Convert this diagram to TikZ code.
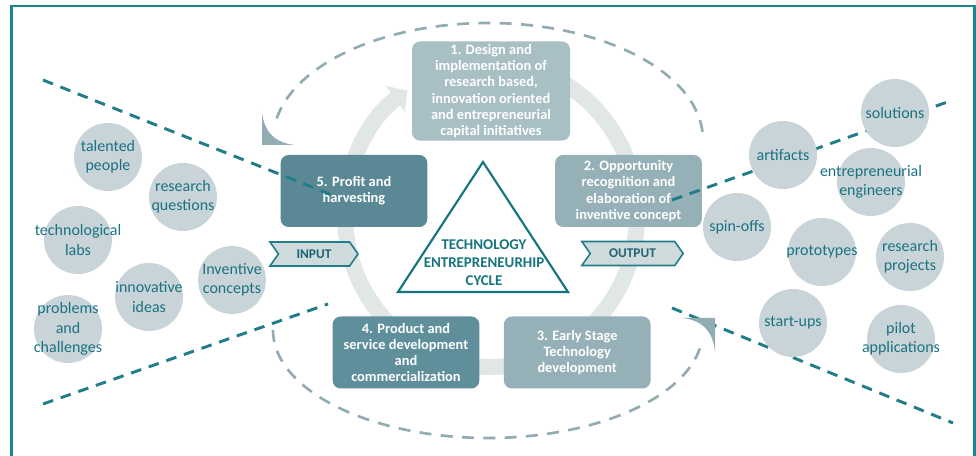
\documentclass[tikz,border=0pt]{standalone}
\usepackage{fontspec}
\setmainfont{Carlito}
\usepackage{tikz}
\usetikzlibrary{arrows.meta,positioning,shapes.symbols}
\usepackage{xcolor}
\definecolor{frameteal}{HTML}{17868F}
\definecolor{funnelteal}{HTML}{217D88}
\definecolor{ringgrey}{HTML}{E1E6E7}
\definecolor{arcgrey}{HTML}{91ACB2}
\definecolor{stageone}{HTML}{A8BFC4}
\definecolor{stagetwo}{HTML}{95B0B6}
\definecolor{stagefour}{HTML}{5E8F9A}
\definecolor{stagefive}{HTML}{5A8995}
\definecolor{bubblegrey}{HTML}{C8D4D8}
\definecolor{bubbleteal}{HTML}{1B7282}
\definecolor{chevfill}{HTML}{CFDADD}
\definecolor{chevtext}{HTML}{1E6474}
\definecolor{triteal}{HTML}{16747E}

\begin{document}
\begin{tikzpicture}[x=0.75pt, y=-0.75pt,
    stage/.style={rounded corners=6pt, text=white, align=center, inner sep=2pt,
      font=\bfseries\fontsize{10.8}{12.2}\selectfont, minimum width=110pt, minimum height=54pt},
    bubble/.style={circle, fill=bubblegrey, minimum size=51pt, inner sep=0pt},
    bubtext/.style={text=bubbleteal, align=center, font=\fontsize{12}{14.5}\selectfont},
    funnel/.style={draw=funnelteal, line width=2.2pt, dash pattern=on 8pt off 6pt},
    loopback/.style={draw=arcgrey, line width=2pt, dash pattern=on 9pt off 7pt},
    flow/.style={signal, signal from=west, signal to=east, signal pointer angle=110,
      draw=funnelteal, line width=1.2pt, fill=chevfill, text=chevtext, inner sep=1pt,
      font=\bfseries\fontsize{10}{12}\selectfont, minimum height=18pt}]
\useasboundingbox (0,0) rectangle (976,456);
\draw[frameteal, line width=2pt] (11.5,456) -- (11.5,6) -- (974.5,6) -- (974.5,456);

% cycle ring behind the stages
\coordinate (ringc) at (491,215);
\draw[ringgrey, line width=12pt, -{Triangle[width=24pt,length=11pt]}]
  ([shift={(265:146 and 152)}]ringc) arc[start angle=265, end angle=595, x radius=146, y radius=152];

\node[stage, fill=stageone, minimum width=118.5pt, minimum height=74pt] (design) at (491,91)
  {1. Design and\\implementation of\\research based,\\innovation oriented\\and entrepreneurial\\capital initiatives};
\node[stage, fill=stagetwo] (opportunity) at (628.5,191)
  {2. Opportunity\\recognition and\\elaboration of\\inventive concept};
\node[stage, fill=stagefour] (product) at (406,352.5)
  {4. Product and\\service development\\and\\commercialization};
\node[stage, fill=stagetwo, right=18pt of product] (early)
  {3. Early Stage\\Technology\\development};
\node[stage, fill=stagefive] (profit) at (354,191) {5. Profit and\\harvesting};

% funnel edges
\coordinate (inTopA) at (43,80);   \coordinate (inTopB) at (337,197);
\coordinate (inBotA) at (43,404);  \coordinate (inBotB) at (328,304);
\coordinate (outTopA) at (672,200); \coordinate (outTopB) at (953,100);
\coordinate (outBotA) at (672,308); \coordinate (outBotB) at (953,423);
\draw[funnel] (inTopA) -- (inTopB);
\draw[funnel] (inBotA) -- (inBotB);
\draw[funnel] (outTopA) -- (outTopB);
\draw[funnel] (outBotA) -- (outBotB);

% feedback arcs
\coordinate (topc) at (488,140);
\coordinate (botc) at (488,330);
\draw[loopback] ([shift={(-4:215 and 117)}]topc) arc[start angle=-4, end angle=-172, x radius=215, y radius=117];
\draw[loopback] ([shift={(180:215 and 108)}]botc) arc[start angle=180, end angle=6, x radius=215, y radius=108];
\coordinate (backtip) at (262,145);
\coordinate (fwdtip) at (715,318);
\fill[arcgrey] (backtip) -- ++(0,-33) .. controls (264,132) and (275,143) .. (295,145) -- cycle;
\fill[arcgrey] (fwdtip) -- ++(-33,0) .. controls (702,320) and (713,331) .. (715,352) -- cycle;

% inputs
\node[bubble, label={[bubtext]center:{talented\\people}}] (talented) at (108,157) {};
\node[bubble, label={[bubtext]center:{research\\questions}}] (questions) at (183,197) {};
\node[bubble, label={[bubtext]center:{technological\\labs}}] (labs) at (78,240) {};
\node[bubble, label={[bubtext]center:{Inventive\\concepts}}] (concepts) at (232,280) {};
\node[bubble, label={[bubtext]center:{innovative\\ideas}}] (ideas) at (149,297) {};
\node[bubble, label={[bubtext]center:{problems\\and\\challenges}}] (problems) at (68,329) {};

% outputs
\node[bubble, label={[bubtext]center:solutions}] (solutions) at (895,113) {};
\node[bubble, label={[bubtext]center:artifacts}] (artifacts) at (783,155) {};
\node[bubble, label={[bubtext]center:{entrepreneurial\\engineers}}] (engineers) at (871,182) {};
\node[bubble, label={[bubtext]center:spin-offs}] (spinoffs) at (737,227) {};
\node[bubble, label={[bubtext]center:prototypes}] (prototypes) at (822,252) {};
\node[bubble, label={[bubtext]center:{research\\projects}}] (projects) at (910,257) {};
\node[bubble, label={[bubtext]center:start-ups}] (startups) at (793,323) {};
\node[bubble, label={[bubtext]center:{pilot\\applications}}] (pilot) at (901,339) {};

\node[flow, minimum width=66pt] (input) at (314,254) {INPUT};
\node[flow, minimum width=76pt] (output) at (632.5,253.5) {OUTPUT};

\coordinate (apex) at (483,162);
\draw[triteal, line width=1.6pt, fill=white] (apex) -- (568,292) -- (398,292) -- cycle;
\node[text=triteal, align=center, font=\bfseries\fontsize{11.2}{13.5}\selectfont] (tec) at (484,263)
  {TECHNOLOGY\\ENTREPRENEURHIP\\CYCLE};
\end{tikzpicture}
\end{document}
